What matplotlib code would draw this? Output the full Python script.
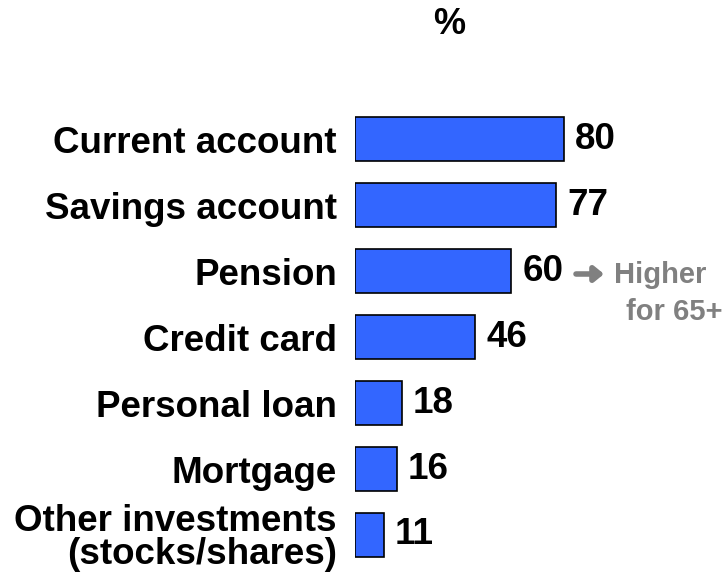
import matplotlib.pyplot as plt
import numpy as np

plt.rcParams['font.family'] = ['Liberation Sans', 'DejaVu Sans']

categories = ["Current account", "Savings account", "Pension", "Credit card",
              "Personal loan", "Mortgage", "Other investments\n(stocks/shares)"]
values = [80, 77, 60, 46, 18, 16, 11]

fig = plt.figure(figsize=(7.26, 5.77), dpi=100)
# axes placed so that the bars start at x=355px
ax = fig.add_axes([355 / 726, 1 - 568 / 577, 326 / 726, 462 / 577])

y = np.arange(len(categories))
bars = ax.barh(y, values, height=0.67, color="#3366FF", edgecolor="black", linewidth=1.2)
ax.bar_label(bars, labels=[str(v) for v in values], padding=8,
             fontsize=26.5, fontweight="bold")

ax.set_xlim(0, 125)
ax.set_ylim(len(categories) - 0.5, -0.5)
ax.set_yticks(y)
ax.set_yticklabels(categories, fontsize=26.5, fontweight="bold", linespacing=0.92)
ax.tick_params(axis="y", length=0, pad=13)
ax.set_xticks([])
for s in ax.spines.values():
    s.set_visible(False)

fig.text(449 / 726, 1 - 25 / 577, "%", ha="center", va="center",
         fontsize=26, fontweight="bold")

# note next to the pension bar
grey = "#808080"
ax.annotate("", xy=(604, 577 - 274), xytext=(576, 577 - 274),
            xycoords="figure pixels", textcoords="figure pixels",
            arrowprops=dict(arrowstyle="-|>,head_length=0.55,head_width=0.45",
                            color=grey, lw=4, shrinkA=0, shrinkB=0))
fig.text(614 / 726, 1 - 275 / 577, "Higher", ha="left", va="center",
         fontsize=21, fontweight="bold", color=grey)
fig.text(723 / 726, 1 - 312 / 577, "for 65+", ha="right", va="center",
         fontsize=21, fontweight="bold", color=grey)

fig.savefig("out.png", dpi=100)
